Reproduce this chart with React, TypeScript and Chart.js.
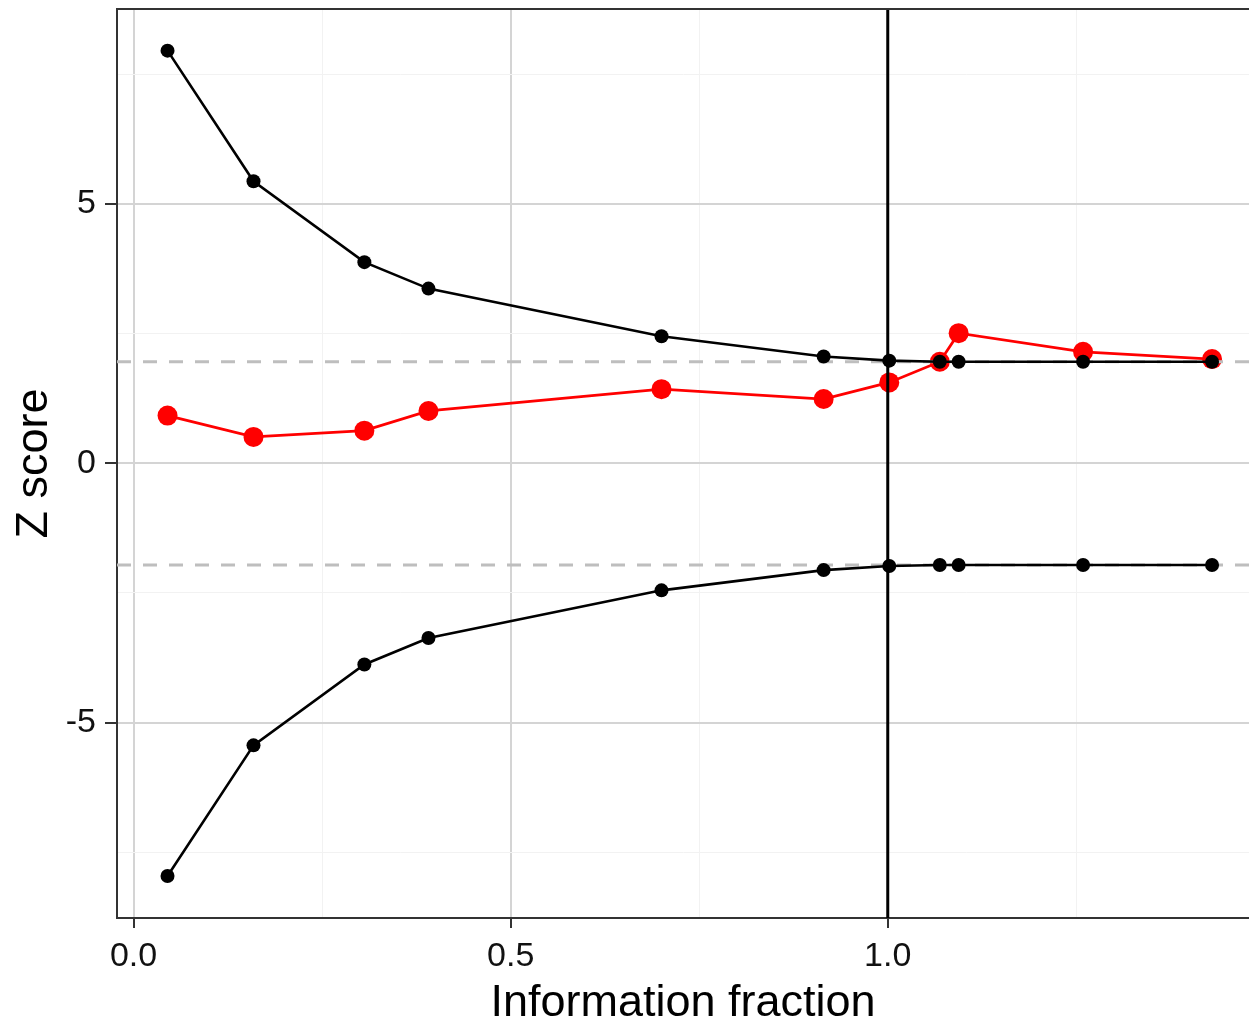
import React, { useEffect, useRef } from "react";
import { Chart, registerables } from "chart.js";

Chart.register(...registerables);

const infoFraction = [0.045, 0.159, 0.306, 0.391, 0.7, 0.915, 1.002, 1.069, 1.094, 1.259, 1.43];
const upperBoundary = [7.96, 5.44, 3.88, 3.37, 2.45, 2.06, 1.98, 1.96, 1.96, 1.96, 1.96];
const lowerBoundary = [-7.96, -5.44, -3.88, -3.37, -2.45, -2.06, -1.98, -1.96, -1.96, -1.96, -1.96];
const zScores = [0.92, 0.51, 0.63, 1.01, 1.43, 1.24, 1.56, 1.96, 2.51, 2.15, 2.01];

const xTicks = [0, 0.25, 0.5, 0.75, 1.0, 1.25];
const xMajor = [0, 0.5, 1.0];
const xTickLabels = ["0.0", "0.5", "1.0"];
const yTicks = [-7.5, -5, -2.5, 0, 2.5, 5, 7.5];
const yMajor = [-5, 0, 5];
const yTickLabels = ["-5", "0", "5"];

const criticalZ = [1.96, -1.96];
const requiredInfo = 1.0;

const X_MIN = -0.022;
const X_MAX = 1.479;
const Y_MIN = -8.77;
const Y_MAX = 8.763;

const FONT = "'Liberation Sans', Arial, sans-serif";

function isIn(list: number[], v: number) {
  return list.some((m) => Math.abs(m - v) < 1e-9);
}

export default function App() {
  const ref = useRef<HTMLCanvasElement | null>(null);

  useEffect(() => {
    if (!ref.current) return;
    const pts = (ys: number[]) => infoFraction.map((x, i) => ({ x, y: ys[i] }));

    const topBorder = {
      id: "topBorder",
      afterDatasetsDraw(chart: any) {
        const { ctx, chartArea } = chart;
        ctx.save();
        ctx.strokeStyle = "#333333";
        ctx.lineWidth = 2;
        ctx.beginPath();
        ctx.moveTo(chartArea.left - 1, chartArea.top);
        ctx.lineTo(chartArea.right, chartArea.top);
        ctx.stroke();
        ctx.restore();
      },
    };

    const chart = new Chart(ref.current, {
      type: "scatter",
      data: {
        datasets: [
          {
            data: [
              { x: requiredInfo, y: Y_MIN },
              { x: requiredInfo, y: Y_MAX },
            ],
            showLine: true,
            borderColor: "#000000",
            borderWidth: 3,
            pointRadius: 0,
            order: 0,
          } as any,
          {
            data: pts(upperBoundary),
            showLine: true,
            borderColor: "#000000",
            backgroundColor: "#000000",
            borderWidth: 2.6,
            pointRadius: 7,
            pointBorderWidth: 0,
            order: 1,
          },
          {
            data: pts(lowerBoundary),
            showLine: true,
            borderColor: "#000000",
            backgroundColor: "#000000",
            borderWidth: 2.6,
            pointRadius: 7,
            pointBorderWidth: 0,
            order: 1,
          },
          ...criticalZ.map((z) => ({
            data: [
              { x: X_MIN, y: z },
              { x: X_MAX, y: z },
            ],
            showLine: true,
            borderColor: "#bebebe",
            borderWidth: 3,
            borderDash: [14, 12],
            pointRadius: 0,
            order: 2,
          })),
          {
            data: pts(zScores),
            showLine: true,
            borderColor: "#ff0000",
            backgroundColor: "#ff0000",
            borderWidth: 2.8,
            pointRadius: 10,
            pointBorderWidth: 0,
            order: 3,
          },
        ],
      },
      options: {
        animation: false,
        responsive: false,
        maintainAspectRatio: false,
        layout: { padding: { top: 9, left: 0, right: 0, bottom: 0 }, autoPadding: false },
        plugins: {
          legend: { display: false },
          tooltip: { enabled: false },
        },
        elements: { line: { tension: 0 } },
        scales: {
          x: {
            type: "linear",
            min: X_MIN,
            max: X_MAX,
            afterBuildTicks: (scale: any) => {
              scale.ticks = xTicks.map((v) => ({ value: v }));
            },
            afterFit: (scale: any) => {
              scale.height = 106;
              scale.paddingLeft = 0;
              scale.paddingRight = 0;
              scale.paddingTop = 0;
              scale.paddingBottom = 0;
            },
            ticks: {
              autoSkip: false,
              maxRotation: 0,
              padding: 12,
              color: "#111111",
              font: { family: FONT, size: 34, lineHeight: 1 },
              callback: (v: any) => {
                const idx = xMajor.findIndex((m) => Math.abs(m - Number(v)) < 1e-9);
                return idx >= 0 ? xTickLabels[idx] : "";
              },
            },
            grid: {
              color: (c: any) => (c.tick && isIn(xMajor, c.tick.value) ? "#d4d4d4" : "#f2f2f2"),
              lineWidth: (c: any) => (c.tick && isIn(xMajor, c.tick.value) ? 2 : 1),
              tickColor: (c: any) => (c.tick && isIn(xMajor, c.tick.value) ? "#333333" : "rgba(0,0,0,0)"),
              tickLength: 10,
              tickWidth: 2,
            },
            border: { display: true, color: "#333333", width: 2 },
            title: {
              display: true,
              text: "Information fraction",
              color: "#000000",
              font: { family: FONT, size: 45, lineHeight: 1 },
              padding: { top: 0, bottom: -2 },
            },
          },
          y: {
            type: "linear",
            min: Y_MIN,
            max: Y_MAX,
            afterBuildTicks: (scale: any) => {
              scale.ticks = yTicks.map((v) => ({ value: v }));
            },
            afterFit: (scale: any) => {
              scale.width = 117;
              scale.paddingLeft = 0;
              scale.paddingRight = 0;
              scale.paddingTop = 0;
              scale.paddingBottom = 0;
            },
            ticks: {
              autoSkip: false,
              padding: 9,
              color: "#111111",
              font: { family: FONT, size: 34, lineHeight: 1 },
              callback: (v: any) => {
                const idx = yMajor.findIndex((m) => Math.abs(m - Number(v)) < 1e-9);
                return idx >= 0 ? yTickLabels[idx] : "";
              },
            },
            grid: {
              color: (c: any) => (c.tick && isIn(yMajor, c.tick.value) ? "#d4d4d4" : "#f2f2f2"),
              lineWidth: (c: any) => (c.tick && isIn(yMajor, c.tick.value) ? 2 : 1),
              tickColor: (c: any) => (c.tick && isIn(yMajor, c.tick.value) ? "#333333" : "rgba(0,0,0,0)"),
              tickLength: 12,
              tickWidth: 2,
            },
            border: { display: true, color: "#333333", width: 2 },
            title: {
              display: true,
              text: "Z score",
              color: "#000000",
              font: { family: FONT, size: 45, lineHeight: 1 },
              padding: { top: 12, bottom: 0 },
            },
          },
        },
      },
      plugins: [topBorder],
    } as any);

    return () => chart.destroy();
  }, []);

  return (
    <div style={{ position: "absolute", left: 0, top: 0, width: 1249, height: 1024, background: "#ffffff" }}>
      <canvas ref={ref} width={1249} height={1024} style={{ width: 1249, height: 1024, display: "block" }} />
    </div>
  );
}
